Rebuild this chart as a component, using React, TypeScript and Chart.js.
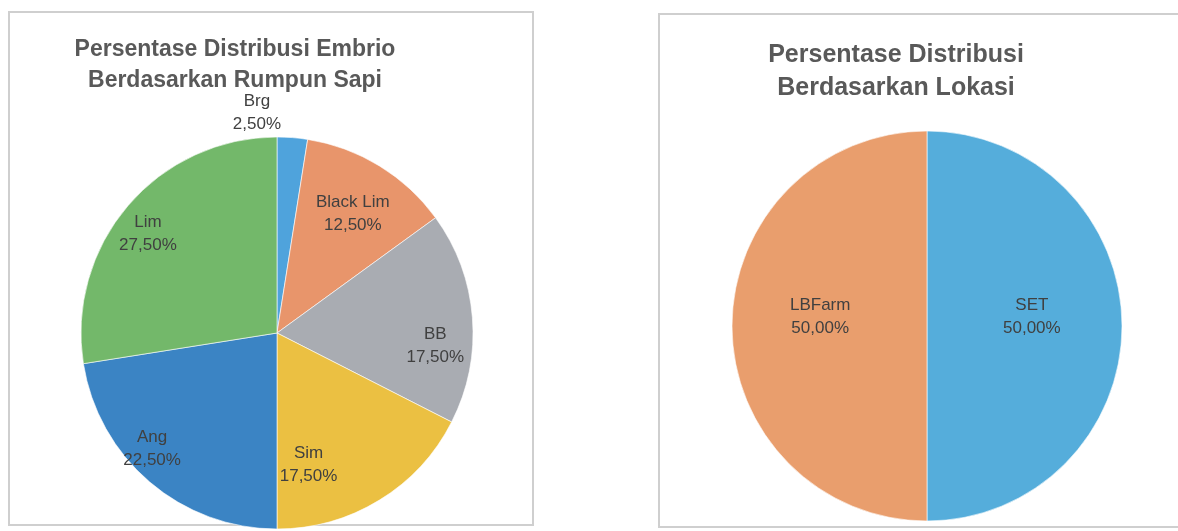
import React, { useEffect, useRef } from 'react';
import { Chart, registerables } from 'chart.js';

Chart.register(...registerables);

// ---- Data ----
const breedLabels = ['Brg', 'Black Lim', 'BB', 'Sim', 'Ang', 'Lim'];
const breedValues = [2.5, 12.5, 17.5, 17.5, 22.5, 27.5];
const breedTitle = ['Persentase Distribusi Embrio', 'Berdasarkan Rumpun Sapi'];

const locationLabels = ['SET', 'LBFarm'];
const locationValues = [50, 50];
const locationTitle = ['Persentase Distribusi', 'Berdasarkan Lokasi'];

// ---- Styles ----
const breedColors = ['#4fa3dc', '#e8956b', '#a9acb2', '#ebc042', '#3b84c4', '#73b86a'];
const locationColors = ['#55addb', '#e99e6d'];
// label placement (fraction of radius, angular shift in degrees)
const breedLabelRadius = [1.13, 0.72, 0.81, 0.69, 0.87, 0.83];
const breedLabelShift = [-9.7, 1, 9, 18, 6.6, -3];
const locationLabelRadius = [0.54, 0.55];
const locationLabelShift = [-5.2, 5.1];

const fmtPct = (v: number) => v.toFixed(2).replace('.', ',') + '%';

const piePlugin = {
  id: 'pieDecor',
  afterDraw(chart: any, _args: any, opts: any) {
    const ctx = chart.ctx;
    ctx.save();
    // title
    ctx.fillStyle = opts.titleColor;
    ctx.font = `bold ${opts.titleSize}px "Liberation Sans", Arial, sans-serif`;
    ctx.textAlign = 'center';
    ctx.textBaseline = 'alphabetic';
    opts.title.forEach((line: string, i: number) => {
      ctx.fillText(line, opts.titleX, opts.titleY + i * opts.titleGap);
    });
    // labels
    const meta = chart.getDatasetMeta(0);
    const labels = chart.data.labels;
    const data = chart.data.datasets[0].data;
    ctx.font = `${opts.labelSize}px "Liberation Sans", Arial, sans-serif`;
    ctx.fillStyle = opts.labelColor;
    ctx.textBaseline = 'middle';
    meta.data.forEach((arc: any, i: number) => {
      const p = arc.getProps(['x', 'y', 'startAngle', 'endAngle', 'outerRadius'], true);
      const a = (p.startAngle + p.endAngle) / 2 + (opts.shift[i] * Math.PI) / 180;
      const r = p.outerRadius * opts.radius[i];
      const x = p.x + Math.cos(a) * r;
      const y = p.y + Math.sin(a) * r;
      const g = opts.labelGap;
      ctx.fillText(String(labels[i]), x, y - g / 2);
      ctx.fillText(fmtPct(data[i]), x, y + g / 2);
    });
    ctx.restore();
  },
};

type PieProps = {
  left: number;
  top: number;
  width: number;
  height: number;
  labels: string[];
  values: number[];
  colors: string[];
  padding: { left: number; right: number; top: number; bottom: number };
  decor: any;
};

function PieCanvas(props: PieProps) {
  const ref = useRef<HTMLCanvasElement | null>(null);
  useEffect(() => {
    if (!ref.current) return;
    const chart = new Chart(ref.current, {
      type: 'pie',
      data: {
        labels: props.labels,
        datasets: [
          {
            data: props.values,
            backgroundColor: props.colors,
            borderColor: 'rgba(255,255,255,0.6)',
            borderWidth: 1,
          },
        ],
      },
      options: {
        animation: false,
        responsive: false,
        devicePixelRatio: 1,
        layout: { padding: props.padding },
        plugins: {
          legend: { display: false },
          title: { display: false },
          tooltip: { enabled: false },
          pieDecor: props.decor,
        } as any,
      },
      plugins: [piePlugin],
    });
    return () => chart.destroy();
  }, []);
  return (
    <canvas
      ref={ref}
      width={props.width}
      height={props.height}
      style={{
        position: 'absolute',
        left: props.left,
        top: props.top,
        width: props.width,
        height: props.height,
      }}
    />
  );
}

export default function App() {
  useEffect(() => {
    document.body.style.overflow = 'hidden';
  }, []);
  return (
    <div>
      <div
        style={{
          position: 'absolute',
          left: 8,
          top: 11,
          width: 526,
          height: 515,
          border: '2px solid #cfcfcf',
          boxSizing: 'border-box',
          background: '#fff',
        }}
      />
      <div
        style={{
          position: 'absolute',
          left: 658,
          top: 13,
          width: 520,
          height: 515,
          borderLeft: '2px solid #cfcfcf',
          borderTop: '2px solid #cfcfcf',
          borderBottom: '2px solid #cfcfcf',
          boxSizing: 'border-box',
          background: '#fff',
        }}
      />
      <PieCanvas
        left={8}
        top={11}
        width={525}
        height={520}
        labels={breedLabels}
        values={breedValues}
        colors={breedColors}
        padding={{ left: 72.5, right: 59.5, top: 125.5, bottom: 1.5 }}
        decor={{
          title: breedTitle,
          titleX: 227,
          titleY: 45,
          titleGap: 31,
          titleSize: 23,
          titleColor: '#595959',
          labelSize: 17,
          labelColor: '#404040',
          labelGap: 23,
          radius: breedLabelRadius,
          shift: breedLabelShift,
        }}
      />
      <PieCanvas
        left={659}
        top={13}
        width={519}
        height={518}
        labels={locationLabels}
        values={locationValues}
        colors={locationColors}
        padding={{ left: 72.5, right: 55.5, top: 117.5, bottom: 9.5 }}
        decor={{
          title: locationTitle,
          titleX: 237,
          titleY: 49,
          titleGap: 33,
          titleSize: 25,
          titleColor: '#595959',
          labelSize: 17,
          labelColor: '#404040',
          labelGap: 23,
          radius: locationLabelRadius,
          shift: locationLabelShift,
        }}
      />
    </div>
  );
}
